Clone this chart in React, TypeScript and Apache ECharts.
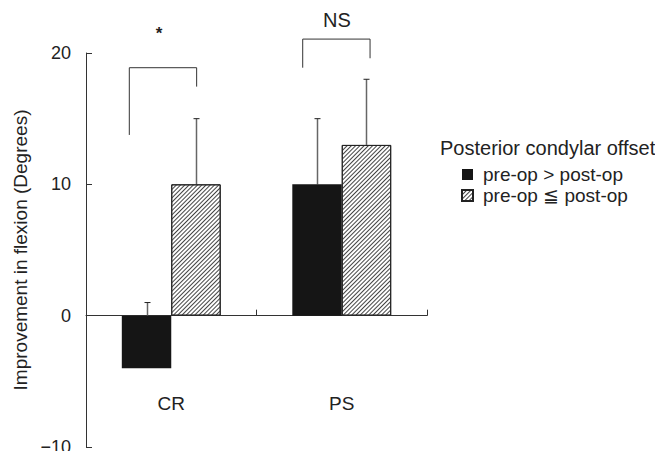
import React, { useEffect, useRef } from "react";
import * as echarts from "echarts";

const categories = ["CR", "PS"];
const seriesNames = ["pre-op > post-op", "pre-op ≦ post-op"];
const greaterValues = [-4, 10];
const lessEqValues = [10, 13];
const greaterErrTop = [1, 15];
const lessEqErrTop = [15, 18];
const yTicks = { min: -10, max: 20, interval: 10 };
const legendTitle = "Posterior condylar offset";
const yName = "Improvement in flexion (Degrees)";
// brackets: [xLeft, yLeftBottom, xRight, yRightBottom, yTop] on a 0..2 helper axis
const brackets = [
  [0.254, 13.76, 0.649, 17.44, 18.88],
  [1.271, 18.88, 1.666, 19.6, 21.06],
];
const bracketLabels = [
  [0.428, 21.5, "*"],
  [1.472, 22.5, "NS"],
];
// category label level (value units on the y scale)
const categoryLabelLevel = -6.7;

const GAP = 0.42;
const FONT = "'Liberation Sans', Arial, sans-serif";

export default function App() {
  const ref = useRef<HTMLDivElement>(null);
  useEffect(() => {
    if (!ref.current) return;
    const chart = echarts.init(ref.current, undefined, { renderer: "svg" });
    const errData: any[] = [];
    greaterValues.forEach((v, i) => errData.push([i, Math.max(v, 0), greaterErrTop[i], 0]));
    lessEqValues.forEach((v, i) => errData.push([i, Math.max(v, 0), lessEqErrTop[i], 1]));

    chart.setOption({
      animation: false,
      textStyle: { fontFamily: FONT },
      grid: {
        left: 86,
        right: 236,
        top: 53,
        bottom: 12,
        containLabel: false,
        outerBoundsMode: "none",
      },
      legend: {
        orient: "vertical",
        left: 461,
        top: 165,
        padding: 0,
        itemWidth: 11,
        itemHeight: 11,
        itemGap: 2,
        icon: "rect",
        textStyle: { fontSize: 19, color: "#222", fontFamily: FONT, padding: [0, 0, 0, 5] },
        data: seriesNames,
      },
      graphic: [
        {
          type: "text",
          left: 440,
          top: 138,
          style: { text: legendTitle, fontSize: 20, fill: "#222", fontFamily: FONT },
        },
      ],
      xAxis: [
        {
          type: "category",
          data: categories,
          axisLine: { lineStyle: { color: "#333", width: 1 } },
          axisTick: { show: true, inside: true, length: 6, lineStyle: { color: "#333" } },
          axisLabel: { show: false },
        },
        { type: "value", min: 0, max: 2, show: false },
      ],
      yAxis: {
        type: "value",
        min: yTicks.min,
        max: yTicks.max,
        interval: yTicks.interval,
        name: yName,
        nameLocation: "middle",
        nameGap: 50,
        nameTextStyle: { fontSize: 19, color: "#222", fontFamily: FONT },
        axisLine: { show: true, lineStyle: { color: "#333", width: 1 } },
        axisTick: { show: true, inside: true, length: 6, lineStyle: { color: "#333" } },
        splitLine: { show: false },
        axisLabel: {
          fontSize: 18,
          color: "#222",
          margin: 15,
          fontFamily: FONT,
          formatter: (v: number) => (v < 0 ? "\u2212" + Math.abs(v) : String(v)),
        },
      },
      series: [
        {
          name: seriesNames[0],
          type: "bar",
          data: greaterValues,
          barGap: "0%",
          barCategoryGap: GAP * 100 + "%",
          itemStyle: { color: "#151515", borderColor: "#151515", borderWidth: 0 },
        },
        {
          name: seriesNames[1],
          type: "bar",
          data: lessEqValues,
          barGap: "0%",
          barCategoryGap: GAP * 100 + "%",
          itemStyle: {
            color: "#ffffff",
            borderColor: "#222",
            borderWidth: 1,
            decal: {
              symbol: "rect",
              symbolSize: 1,
              color: "#444",
              dashArrayX: [1, 0],
              dashArrayY: [0.8, 1.4],
              rotation: -Math.PI / 4,
            },
          },
        },
        {
          type: "custom",
          name: "err",
          data: errData,
          z: 1,
          renderItem: (params: any, api: any) => {
            const idx = api.value(0);
            const lo = api.value(1);
            const hi = api.value(2);
            const which = api.value(3);
            const band = api.size([1, 0])[0];
            const bw = (band * (1 - GAP)) / 2;
            const off = which === 0 ? -bw / 2 : bw / 2;
            const p0 = api.coord([idx, lo]);
            const p1 = api.coord([idx, hi]);
            const x = Math.round(p0[0] + off) + 0.5;
            return {
              type: "group",
              children: [
                {
                  type: "line",
                  shape: { x1: x, y1: p0[1], x2: x, y2: p1[1] },
                  style: { stroke: "#666", lineWidth: 1.5 },
                },
                {
                  type: "line",
                  shape: { x1: x - 3, y1: p1[1], x2: x + 3, y2: p1[1] },
                  style: { stroke: "#222", lineWidth: 1 },
                },
              ],
            };
          },
        },
        {
          type: "custom",
          name: "catLabels",
          data: categories.map((c, i) => [i, categoryLabelLevel]),
          clip: false,
          renderItem: (params: any, api: any) => {
            const p = api.coord([api.value(0), api.value(1)]);
            return {
              type: "text",
              x: p[0],
              y: p[1],
              style: {
                text: categories[params.dataIndex],
                fontSize: 19,
                fill: "#222",
                fontFamily: FONT,
                align: "center",
                verticalAlign: "middle",
              },
            };
          },
        },
        {
          type: "custom",
          name: "brackets",
          xAxisIndex: 1,
          data: brackets,
          clip: false,
          renderItem: (params: any, api: any) => {
            const a = api.coord([api.value(0), api.value(1)]);
            const t1 = api.coord([api.value(0), api.value(4)]);
            const t2 = api.coord([api.value(2), api.value(4)]);
            const b = api.coord([api.value(2), api.value(3)]);
            return {
              type: "polyline",
              shape: { points: [a, t1, t2, b] },
              style: { stroke: "#333", lineWidth: 1, fill: "none" },
            };
          },
        },
        {
          type: "custom",
          name: "sig",
          xAxisIndex: 1,
          data: bracketLabels,
          clip: false,
          renderItem: (params: any, api: any) => {
            const p = api.coord([api.value(0), api.value(1)]);
            const txt = bracketLabels[params.dataIndex][2] as string;
            return {
              type: "text",
              x: p[0],
              y: p[1],
              style: {
                text: txt,
                fontSize: txt === "*" ? 17 : 20,
                fontWeight: txt === "*" ? "bold" : "normal",
                fill: "#222",
                fontFamily: FONT,
                align: "center",
                verticalAlign: "middle",
              },
            };
          },
        },
      ],
    });
    return () => chart.dispose();
  }, []);
  return <div ref={ref} style={{ width: 663, height: 459, margin: -8 }} />;
}
